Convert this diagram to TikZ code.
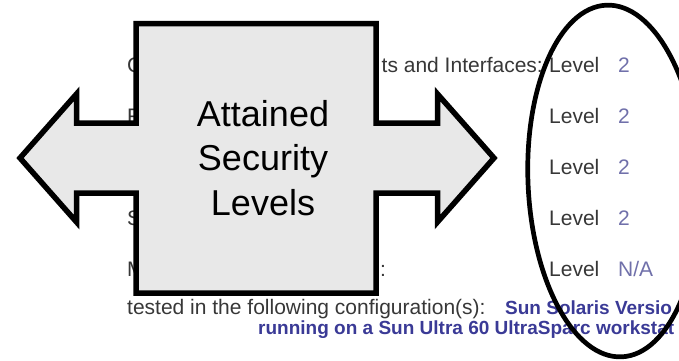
\documentclass[tikz,border=0pt]{standalone}
\usepackage{fontspec}
\setmainfont{Liberation Sans}
\definecolor{arrowfill}{RGB}{232,232,232}
\definecolor{labelgray}{RGB}{55,55,55}
\definecolor{numblue}{RGB}{112,112,170}
\definecolor{cfgblue}{RGB}{58,58,150}
\begin{document}
\begin{tikzpicture}[x=1pt,y=-1pt,
  lbl/.style={anchor=base west,inner sep=0pt,text=labelgray,font=\fontsize{21}{25}\selectfont},
  num/.style={anchor=base west,inner sep=0pt,text=numblue,font=\fontsize{21}{25}\selectfont},
  cfgb/.style={anchor=base west,inner sep=0pt,text=cfgblue,font=\bfseries\fontsize{19}{23}\selectfont},
  arrowshape/.style={draw=black,line width=5.5pt,fill=arrowfill,line join=miter},
  ellline/.style={draw=black,line width=4.7pt},
  bigtext/.style={inner sep=0pt,align=center,font=\fontsize{36}{44.5}\selectfont}]
\useasboundingbox (0,0) rectangle (679,360);
\clip (0,0) rectangle (679,360);
% labels (partly covered by the arrow)
\node[lbl] (l1a) at (127,72.5) {C};
\node[lbl] (l2a) at (127,123.5) {F};
\node[lbl] (l4a) at (127,225.5) {S};
\node[lbl] (l5a) at (127,276.5) {M};
\node[lbl,anchor=base east] (l1b) at (543,72.5) {ts and Interfaces:};
\node[lbl] (l5b) at (380,276.5) {:};
% level column
\foreach \i/\y in {1/72.5,2/123.5,3/174.5,4/225.5,5/276.5}{
  \node[lbl] (lev\i) at (549,\y) {Level};
}
\foreach \i/\y in {1/72.5,2/123.5,3/174.5,4/225.5}{
  \node[num] (n\i) at (618,\y) {2};
}
\node[num] (n5) at (618,276.5) {N/A};
% configuration lines
\node[lbl] (cfg1) at (127,314) {tested in the following configuration(s):};
\node[cfgb] (cfg2) at (505,314) {Sun Solaris Versio};
\node[cfgb] (cfg3) at (258,334) {running on a Sun Ultra 60 UltraSparc workstat};
% double arrow
\draw[arrowshape] (136,23.5) -- (376,23.5) -- (376,123) -- (437.5,123) -- (437.5,94)
  -- (494,158) -- (437.5,222) -- (437.5,193) -- (376,193) -- (376,293) -- (136,293)
  -- (136,193) -- (76.5,193) -- (76.5,222) -- (20,158) -- (76.5,94) -- (76.5,123)
  -- (136,123) -- cycle;
\node[bigtext] (title) at (263,158) {Attained\\Security\\Levels};
% ellipse
\draw[ellline,rotate around={2.5:(614,181)}] (614,181) ellipse [x radius=86,y radius=176];
\end{tikzpicture}
\end{document}
